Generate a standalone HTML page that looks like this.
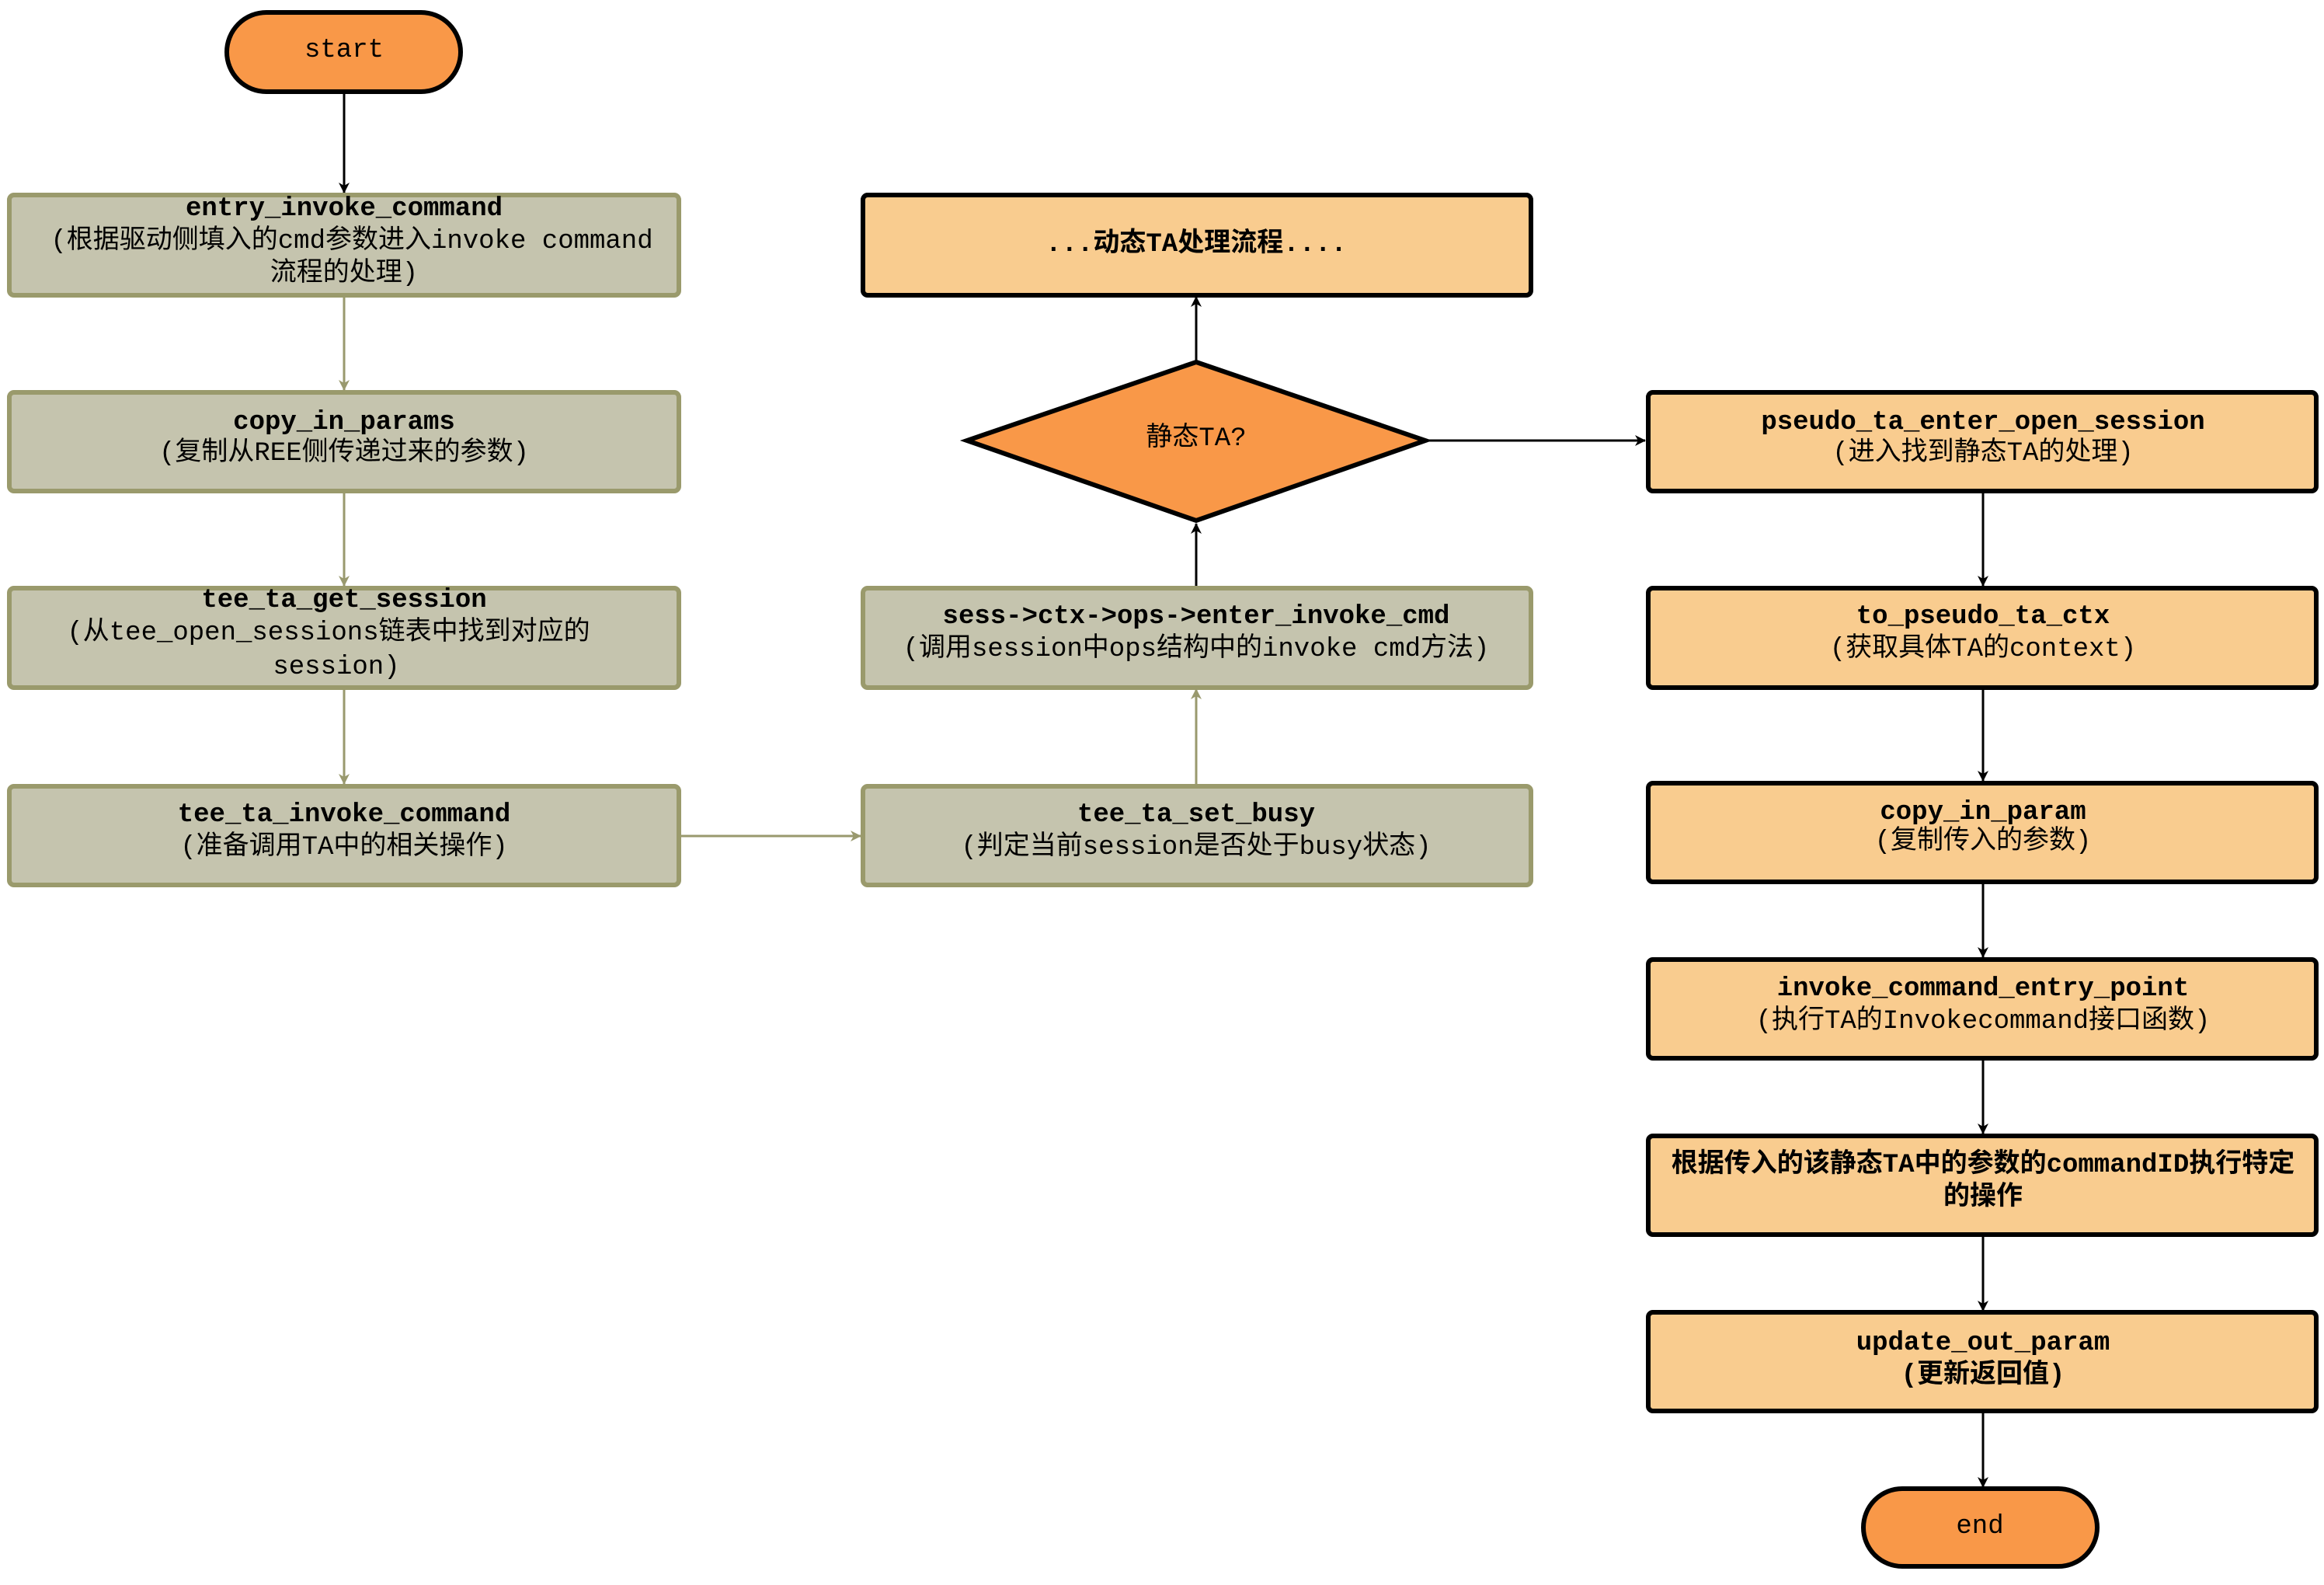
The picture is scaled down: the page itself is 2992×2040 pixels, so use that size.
<!DOCTYPE html>
<html><head><meta charset="utf-8"><style>
html,body{margin:0;padding:0;background:#fff;}
svg{display:block;}
text{font-family:"Liberation Mono","Noto Sans CJK SC",monospace;font-size:34px;fill:#000;}
.b{font-weight:bold;}
</style></head><body>
<svg width="2992" height="2040" viewBox="0 0 2992 2040" xmlns="http://www.w3.org/2000/svg">
<defs>
<marker id="ab" markerWidth="14" markerHeight="14" refX="13" refY="7" orient="auto" markerUnits="userSpaceOnUse" viewBox="0 0 14 14">
<path d="M0,0 L14,7 L0,14 L4,7 z" fill="#000"/></marker>
<marker id="ag" markerWidth="14" markerHeight="14" refX="13" refY="7" orient="auto" markerUnits="userSpaceOnUse" viewBox="0 0 14 14">
<path d="M0,0 L14,7 L0,14 L4,7 z" fill="#99996e"/></marker>
</defs>
<g fill="none" stroke-width="3">
<path d="M443,118 V248" stroke="#000" marker-end="url(#ab)"/>
<path d="M443,382 V502" stroke="#99996e" marker-end="url(#ag)"/>
<path d="M443,634 V754" stroke="#99996e" marker-end="url(#ag)"/>
<path d="M443,887 V1009" stroke="#99996e" marker-end="url(#ag)"/>
<path d="M876,1076 H1108" stroke="#99996e" marker-end="url(#ag)"/>
<path d="M1540,1009 V887" stroke="#99996e" marker-end="url(#ag)"/>
<path d="M1540,754 V674" stroke="#000" marker-end="url(#ab)"/>
<path d="M1540,464 V382" stroke="#000" marker-end="url(#ab)"/>
<path d="M1837,567 H2118" stroke="#000" marker-end="url(#ab)"/>
<path d="M2553,634 V754" stroke="#000" marker-end="url(#ab)"/>
<path d="M2553,887 V1005" stroke="#000" marker-end="url(#ab)"/>
<path d="M2553,1137 V1232" stroke="#000" marker-end="url(#ab)"/>
<path d="M2553,1364 V1459" stroke="#000" marker-end="url(#ab)"/>
<path d="M2553,1591 V1687" stroke="#000" marker-end="url(#ab)"/>
<path d="M2553,1818 V1914" stroke="#000" marker-end="url(#ab)"/>
</g>
<g stroke-width="6">
<rect x="292" y="16" width="301" height="102" rx="51" fill="#f99848" stroke="#000"/>
<rect x="1120" y="1917" width="1" height="1" fill="none" stroke="none"/>
<rect x="2399" y="1916" width="301" height="100" rx="50" fill="#f99848" stroke="#000"/>
<g fill="#c5c4ae" stroke="#9a9a6c">
<rect x="12" y="251" width="862" height="129" rx="6"/>
<rect x="12" y="505" width="862" height="127" rx="6"/>
<rect x="12" y="757" width="862" height="128" rx="6"/>
<rect x="12" y="1012" width="862" height="127" rx="6"/>
<rect x="1111" y="757" width="860" height="128" rx="6"/>
<rect x="1111" y="1012" width="860" height="127" rx="6"/>
</g>
<g fill="#f9cc8f" stroke="#000">
<rect x="1111" y="251" width="860" height="129" rx="6"/>
<rect x="2122" y="505" width="860" height="127" rx="6"/>
<rect x="2122" y="757" width="860" height="128" rx="6"/>
<rect x="2122" y="1008" width="860" height="127" rx="6"/>
<rect x="2122" y="1235" width="860" height="127" rx="6"/>
<rect x="2122" y="1462" width="860" height="127" rx="6"/>
<rect x="2122" y="1689" width="860" height="127" rx="6"/>
</g>
<polygon points="1540,466 1835,567 1540,670 1245,567" fill="#f99848" stroke="#000"/>
</g>
<g text-anchor="middle" dominant-baseline="central">
<text x="443" y="65">start</text>
<text x="2549" y="1965">end</text>
<text class="b" x="443" y="269">entry_invoke_command</text>
<text x="453" y="311">(根据驱动侧填入的cmd参数进入invoke command</text>
<text x="443" y="353">流程的处理)</text>
<text class="b" x="443" y="544">copy_in_params</text>
<text x="443" y="584">(复制从REE侧传递过来的参数)</text>
<text class="b" x="443" y="773">tee_ta_get_session</text>
<text x="423" y="815">(从tee_open_sessions链表中找到对应的</text>
<text x="433" y="859">session)</text>
<text class="b" x="443" y="1049">tee_ta_invoke_command</text>
<text x="443" y="1091">(准备调用TA中的相关操作)</text>
<text class="b" x="1540" y="315">...动态TA处理流程....</text>
<text x="1540" y="565">静态TA?</text>
<text class="b" x="1540" y="794">sess-&gt;ctx-&gt;ops-&gt;enter_invoke_cmd</text>
<text x="1540" y="836">(调用session中ops结构中的invoke cmd方法)</text>
<text class="b" x="1540" y="1049">tee_ta_set_busy</text>
<text x="1540" y="1091">(判定当前session是否处于busy状态)</text>
<text class="b" x="2553" y="544">pseudo_ta_enter_open_session</text>
<text x="2553" y="584">(进入找到静态TA的处理)</text>
<text class="b" x="2553" y="794">to_pseudo_ta_ctx</text>
<text x="2553" y="836">(获取具体TA的context)</text>
<text class="b" x="2553" y="1046">copy_in_param</text>
<text x="2553" y="1084">(复制传入的参数)</text>
<text class="b" x="2553" y="1273">invoke_command_entry_point</text>
<text x="2553" y="1315">(执行TA的Invokecommand接口函数)</text>
<text class="b" x="2553" y="1500">根据传入的该静态TA中的参数的commandID执行特定</text>
<text class="b" x="2553" y="1542">的操作</text>
<text class="b" x="2553" y="1729">update_out_param</text>
<text class="b" x="2553" y="1771">(更新返回值)</text>
</g>
</svg>
</body></html>
